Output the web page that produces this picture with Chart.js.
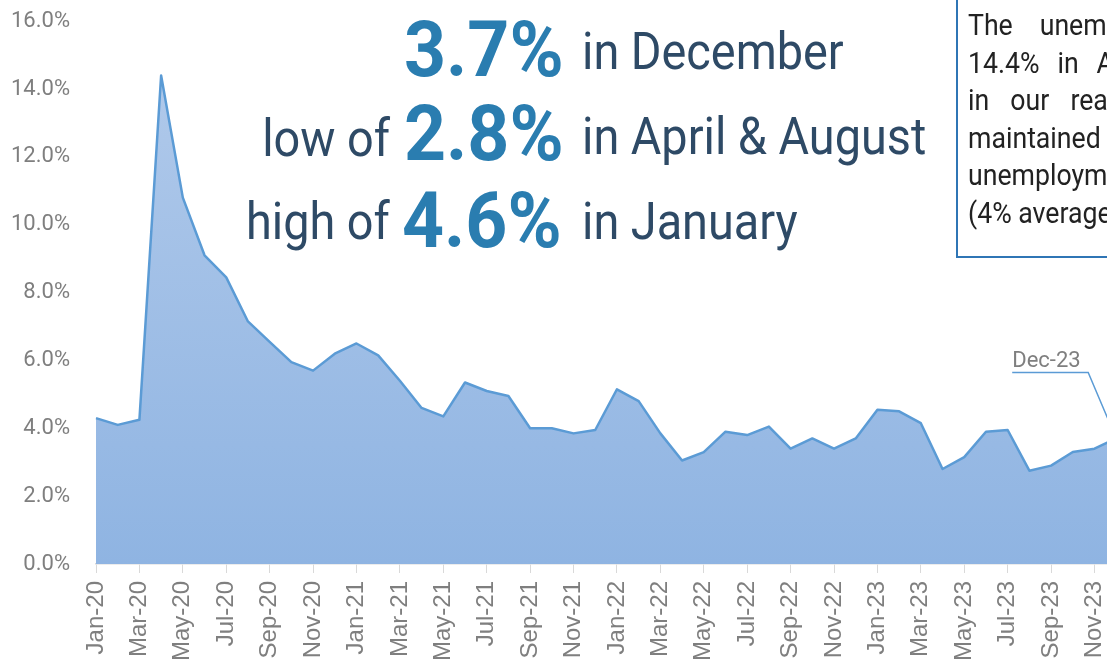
<!DOCTYPE html>
<html>
<head>
<meta charset="utf-8">
<script src="https://cdn.jsdelivr.net/npm/chart.js@4"></script>
<style>
  body { margin: 0; width: 1107px; height: 660px; overflow: hidden; background: #fff; position: relative; }
  #wrap { position: absolute; left: 0; top: -18px; width: 1153px; height: 678px; }
  .big { position: absolute; font: 700 78px Roboto; line-height: 1; color: #2a7db0; transform: scaleX(0.94); transform-origin: left; white-space: nowrap; }
  .txt { position: absolute; font: 400 52px Roboto; line-height: 1; color: #2e4a66; transform: scaleX(0.9); white-space: nowrap; }
  .txt.l { transform-origin: left; }
  .txt.r { transform-origin: right; text-align: right; }
  #box { position: absolute; left: 956px; top: -4px; width: 420px; height: 258px; border: 2px solid #2f75b5; }
  #boxtext { position: absolute; left: 10px; top: 9px; width: 490px; font: 400 29px Roboto; line-height: 37.5px; color: #222;
             transform: scaleX(0.92); transform-origin: left top; }
  #boxtext div { text-align: justify; text-align-last: justify; white-space: nowrap; }
  #boxtext div:last-child { text-align-last: left; }
</style>
</head>
<body>
<div id="wrap"><canvas id="chart"></canvas></div>

<!-- headline -->
<div class="big" style="left:404px; top:11px;">3.7%</div>
<div class="txt l" style="left:582px; top:26px;">in December</div>

<div class="txt r" style="right:717px; top:113px;">low of</div>
<div class="big" style="left:404px; top:95px;">2.8%</div>
<div class="txt l" style="left:582px; top:111px;">in April &amp; August</div>

<div class="txt r" style="right:717px; top:196px;">high of</div>
<div class="big" style="left:402px; top:182px;">4.6%</div>
<div class="txt l" style="left:582px; top:196px;">in January</div>

<!-- note box (runs past the right edge) -->
<div id="box">
  <div id="boxtext">
    <div>The unemployment rate high of</div>
    <div>14.4% in April 2020 is now firmly</div>
    <div>in our rear view mirror. Colorado</div>
    <div>maintained a very low rate of</div>
    <div>unemployment throughout 2023</div>
    <div>(4% average).</div>
  </div>
</div>

<script>
// meses
const meses = [
  'Jan-20','Feb-20','Mar-20','Apr-20','May-20','Jun-20','Jul-20','Aug-20','Sep-20','Oct-20','Nov-20','Dec-20',
  'Jan-21','Feb-21','Mar-21','Apr-21','May-21','Jun-21','Jul-21','Aug-21','Sep-21','Oct-21','Nov-21','Dec-21',
  'Jan-22','Feb-22','Mar-22','Apr-22','May-22','Jun-22','Jul-22','Aug-22','Sep-22','Oct-22','Nov-22','Dec-22',
  'Jan-23','Feb-23','Mar-23','Apr-23','May-23','Jun-23','Jul-23','Aug-23','Sep-23','Oct-23','Nov-23','Dec-23'
];

// unemployment rate, %
const tasa2020 = [4.3, 4.1, 4.25, 14.4, 10.8, 9.1, 8.45, 7.15, 6.55, 5.95, 5.7, 6.2];
const tasa2021 = [6.5, 6.15, 5.4, 4.6, 4.35, 5.35, 5.1, 4.95, 4.0, 4.0, 3.85, 3.95];
const tasa2022 = [5.15, 4.8, 3.85, 3.05, 3.3, 3.9, 3.8, 4.05, 3.4, 3.7, 3.4, 3.7];
const tasa2023 = [4.55, 4.5, 4.15, 2.8, 3.15, 3.9, 3.95, 2.75, 2.9, 3.3, 3.4, 3.7];
const tasa = [...tasa2020, ...tasa2021, ...tasa2022, ...tasa2023];

// y axis ticks
const yTicks = [0, 2, 4, 6, 8, 10, 12, 14, 16];

const etiquetaFinal = 'Dec-23';

// gradient fill like the excel area
const relleno = (context) => {
  const { ctx, chartArea } = context.chart;
  if (!chartArea) return '#9dbce6';
  const g = ctx.createLinearGradient(0, chartArea.top, 0, chartArea.bottom);
  g.addColorStop(0, '#b3cbeb');
  g.addColorStop(1, '#8fb4e2');
  return g;
};

// label with leader line for the last point
const etiquetaPlugin = {
  id: 'etiquetaFinal',
  afterDatasetsDraw(chart) {
    const meta = chart.getDatasetMeta(0);
    const p = meta.data[meta.data.length - 1];
    const ctx = chart.ctx;
    const codoX = p.x - 28, codoY = p.y - 66;
    ctx.save();
    ctx.strokeStyle = '#5b9bd5';
    ctx.lineWidth = 1.5;
    ctx.beginPath();
    ctx.moveTo(p.x, p.y);
    ctx.lineTo(codoX, codoY);
    ctx.lineTo(codoX - 76, codoY);
    ctx.stroke();
    ctx.fillStyle = '#7f7f7f';
    ctx.font = '22px Roboto';
    ctx.textAlign = 'left';
    ctx.textBaseline = 'alphabetic';
    ctx.fillText(etiquetaFinal, codoX - 76, codoY - 5);
    ctx.restore();
  }
};

const ctx = document.getElementById('chart').getContext('2d');
new Chart(ctx, {
  type: 'line',
  data: {
    labels: meses,
    datasets: [{
      data: tasa,
      borderColor: '#5b9bd5',
      borderWidth: 2.5,
      borderJoinStyle: 'round',
      backgroundColor: relleno,
      fill: 'origin',
      pointRadius: 0,
      tension: 0
    }]
  },
  options: {
    responsive: true,
    maintainAspectRatio: false,
    animation: false,
    layout: { padding: { top: 1, right: 0, left: 0, bottom: 0 } },
    plugins: { legend: { display: false }, tooltip: { enabled: false } },
    scales: {
      x: {
        afterFit: (s) => { s.height = 96; },
        border: { display: true, color: '#d9d9d9', width: 1.5 },
        grid: {
          drawOnChartArea: false,
          drawTicks: true,
          tickLength: 9,
          color: (c) => (c.index % 2 === 0 ? '#d9d9d9' : 'rgba(0,0,0,0)')
        },
        ticks: {
          autoSkip: false,
          maxRotation: 90,
          minRotation: 90,
          padding: 8,
          color: '#7f7f7f',
          font: { family: 'Liberation Sans', size: 24 },
          callback: function (v, i) { return i % 2 === 0 ? this.getLabelForValue(v) : ''; }
        }
      },
      y: {
        min: 0,
        max: 16,
        afterFit: (s) => { s.width = 96; },
        afterBuildTicks: (s) => { s.ticks = yTicks.map(v => ({ value: v })); },
        border: { display: false },
        grid: { display: false, drawTicks: false },
        ticks: {
          padding: 26,
          color: '#7f7f7f',
          font: { family: 'Roboto', size: 22 },
          callback: (v) => v.toFixed(1) + '%'
        }
      }
    }
  },
  plugins: [etiquetaPlugin]
});
</script>
</body>
</html>
